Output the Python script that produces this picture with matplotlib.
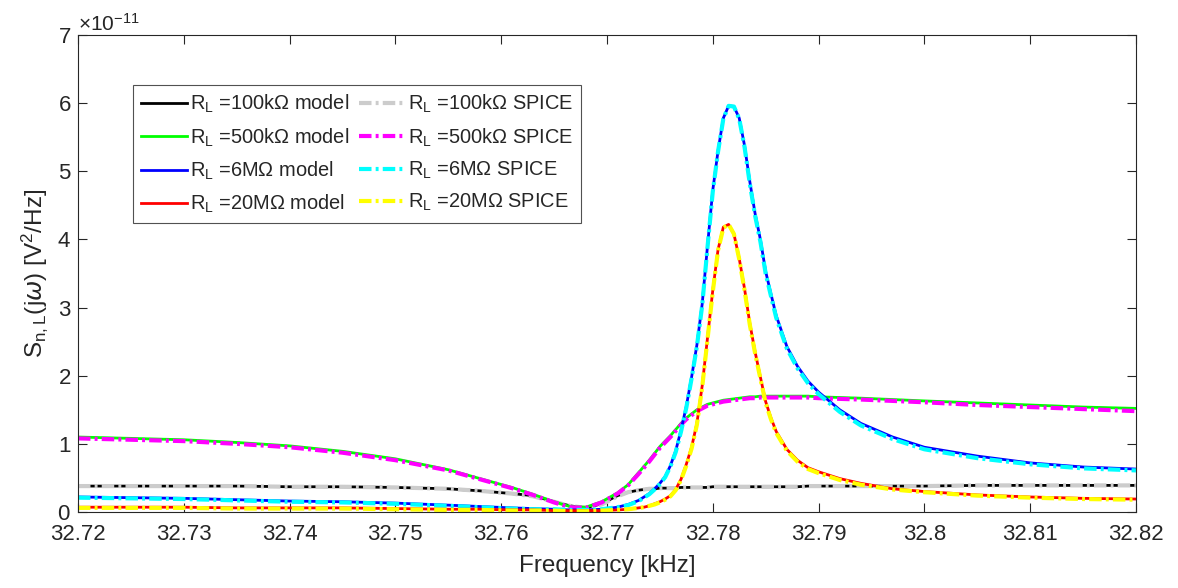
import numpy as np
import matplotlib
matplotlib.use("Agg")
from matplotlib import pyplot as plt

plt.rcParams['font.family'] = ['Liberation Sans', 'DejaVu Sans']
plt.rcParams['mathtext.default'] = 'regular'

# frequency [kHz]
freq = [32.720, 32.725, 32.730, 32.735, 32.740, 32.745, 32.750, 32.755, 32.758, 32.761,
        32.763, 32.765, 32.7665, 32.768, 32.7695, 32.771, 32.772, 32.773, 32.7735, 32.774,
        32.7745, 32.775, 32.7755, 32.776, 32.7765, 32.777, 32.7775, 32.778, 32.7785, 32.779,
        32.7795, 32.780, 32.7805, 32.781, 32.7815, 32.782, 32.7825, 32.783, 32.7835, 32.784,
        32.7845, 32.785, 32.7855, 32.786, 32.787, 32.788, 32.789, 32.790, 32.792, 32.794,
        32.797, 32.800, 32.805, 32.810, 32.815, 32.820]

# noise PSD, units of 1e-11 V^2/Hz
rl100_model = [0.38, 0.38, 0.38, 0.38, 0.37, 0.37, 0.36, 0.34, 0.31, 0.27,
               0.24, 0.15, 0.09, 0.06, 0.12, 0.24, 0.29, 0.32, 0.33, 0.34,
               0.34, 0.35, 0.35, 0.35, 0.35, 0.36, 0.36, 0.36, 0.36, 0.36,
               0.36, 0.37, 0.37, 0.37, 0.37, 0.37, 0.37, 0.37, 0.37, 0.37,
               0.37, 0.37, 0.37, 0.37, 0.37, 0.37, 0.38, 0.38, 0.38, 0.38,
               0.38, 0.38, 0.39, 0.39, 0.39, 0.39]
rl100_spice = [0.38, 0.38, 0.38, 0.38, 0.37, 0.37, 0.36, 0.34, 0.31, 0.27,
               0.23, 0.15, 0.09, 0.06, 0.11, 0.23, 0.29, 0.32, 0.33, 0.34,
               0.34, 0.35, 0.35, 0.35, 0.35, 0.36, 0.36, 0.36, 0.36, 0.36,
               0.36, 0.37, 0.37, 0.37, 0.37, 0.37, 0.37, 0.37, 0.37, 0.37,
               0.37, 0.37, 0.37, 0.37, 0.37, 0.37, 0.38, 0.38, 0.38, 0.38,
               0.38, 0.38, 0.39, 0.39, 0.39, 0.39]
rl500_model = [1.10, 1.08, 1.06, 1.02, 0.97, 0.89, 0.78, 0.62, 0.49, 0.36,
               0.26, 0.15, 0.08, 0.07, 0.15, 0.28, 0.40, 0.58, 0.67, 0.76,
               0.86, 0.96, 1.04, 1.12, 1.21, 1.30, 1.38, 1.44, 1.50, 1.54,
               1.58, 1.60, 1.62, 1.64, 1.65, 1.66, 1.67, 1.68, 1.69, 1.69,
               1.70, 1.70, 1.70, 1.70, 1.70, 1.70, 1.70, 1.69, 1.68, 1.67,
               1.65, 1.63, 1.60, 1.57, 1.54, 1.52]
rl500_spice = [1.08, 1.06, 1.04, 1.00, 0.95, 0.87, 0.76, 0.61, 0.48, 0.35,
               0.25, 0.14, 0.07, 0.06, 0.14, 0.27, 0.39, 0.56, 0.65, 0.74,
               0.84, 0.94, 1.02, 1.10, 1.19, 1.28, 1.36, 1.42, 1.48, 1.52,
               1.56, 1.58, 1.60, 1.62, 1.63, 1.64, 1.65, 1.66, 1.67, 1.67,
               1.68, 1.68, 1.68, 1.68, 1.68, 1.68, 1.68, 1.67, 1.66, 1.65,
               1.63, 1.61, 1.57, 1.54, 1.51, 1.48]
rl6M_model = [0.22, 0.21, 0.20, 0.18, 0.16, 0.15, 0.13, 0.10, 0.08, 0.06,
              0.05, 0.04, 0.03, 0.03, 0.04, 0.07, 0.11, 0.17, 0.22, 0.27,
              0.34, 0.42, 0.52, 0.68, 0.90, 1.20, 1.55, 1.98, 2.45, 3.05,
              3.90, 4.72, 5.30, 5.78, 5.96, 5.95, 5.78, 5.38, 4.85, 4.38,
              4.00, 3.53, 3.20, 2.88, 2.43, 2.14, 1.92, 1.76, 1.50, 1.30,
              1.10, 0.95, 0.82, 0.72, 0.66, 0.63]
rl6M_spice = [0.21, 0.20, 0.19, 0.17, 0.15, 0.14, 0.12, 0.09, 0.07, 0.05,
              0.04, 0.04, 0.03, 0.03, 0.04, 0.07, 0.10, 0.16, 0.21, 0.26,
              0.33, 0.41, 0.51, 0.67, 0.88, 1.18, 1.53, 1.96, 2.43, 3.03,
              3.88, 4.70, 5.29, 5.77, 5.96, 5.95, 5.77, 5.36, 4.82, 4.35,
              3.97, 3.50, 3.17, 2.85, 2.40, 2.11, 1.89, 1.73, 1.47, 1.27,
              1.07, 0.92, 0.79, 0.70, 0.64, 0.61]
rl20M_model = [0.07, 0.07, 0.07, 0.06, 0.06, 0.06, 0.05, 0.04, 0.04, 0.03,
               0.03, 0.02, 0.02, 0.02, 0.02, 0.03, 0.04, 0.06, 0.07, 0.09,
               0.12, 0.15, 0.19, 0.24, 0.33, 0.48, 0.70, 0.95, 1.30, 1.85,
               2.55, 3.25, 3.85, 4.18, 4.22, 4.08, 3.72, 3.28, 2.77, 2.35,
               1.98, 1.62, 1.38, 1.18, 0.92, 0.76, 0.65, 0.59, 0.49, 0.42,
               0.34, 0.30, 0.25, 0.22, 0.20, 0.19]
rl20M_spice = [0.06, 0.06, 0.06, 0.05, 0.05, 0.05, 0.04, 0.03, 0.03, 0.02,
               0.02, 0.02, 0.01, 0.01, 0.02, 0.03, 0.04, 0.06, 0.07, 0.09,
               0.11, 0.14, 0.18, 0.23, 0.32, 0.47, 0.68, 0.93, 1.28, 1.83,
               2.53, 3.23, 3.84, 4.17, 4.22, 4.08, 3.71, 3.26, 2.75, 2.33,
               1.96, 1.60, 1.36, 1.16, 0.90, 0.74, 0.63, 0.57, 0.47, 0.40,
               0.33, 0.29, 0.24, 0.21, 0.19, 0.18]

names = ['100k', '500k', '6M', '20M']
model_sets = [rl100_model, rl500_model, rl6M_model, rl20M_model]
spice_sets = [rl100_spice, rl500_spice, rl6M_spice, rl20M_spice]
model_cols = ['k', (0, 1, 0), (0, 0, 1), (1, 0, 0)]
spice_cols = [(0.8, 0.8, 0.8), (1, 0, 1), (0, 1, 1), (1, 1, 0)]

fig = plt.figure(figsize=(11.78, 5.88), dpi=100)
ax = fig.add_axes([0.0662, 0.1293, 0.8981, 0.8112])

f = np.array(freq)
model_lines = []
spice_lines = []
for name, m, s, mc, sc in zip(names, model_sets, spice_sets, model_cols, spice_cols):
    lm, = ax.plot(f, np.array(m) * 1e-11, color=mc, lw=2.0,
                  label='R$_L$ =%s\u03a9 model' % name)
    ls, = ax.plot(f, np.array(s) * 1e-11, color=sc, lw=3.0,
                  linestyle=(0, (3.0, 1.0, 0.7, 1.0)),
                  label='R$_L$ =%s\u03a9 SPICE' % name)
    model_lines.append(lm)
    spice_lines.append(ls)

ax.set_xlim(32.72, 32.82)
ax.set_ylim(0, 7e-11)
ax.set_xticks(np.arange(32.72, 32.8201, 0.01))
ax.set_xticklabels(['32.72', '32.73', '32.74', '32.75', '32.76', '32.77', '32.78',
                    '32.79', '32.8', '32.81', '32.82'])
ax.set_yticks(np.arange(0, 8) * 1e-11)
ax.ticklabel_format(axis='y', style='sci', scilimits=(0, 0), useMathText=True)
ax.yaxis.get_offset_text().set_fontsize(15)
ax.yaxis.get_offset_text().set_color('#262626')

dark = '#262626'
ax.tick_params(direction='in', length=6.5, width=0.8, top=True, right=True,
               labelsize=16, colors=dark, pad=5)
ax.tick_params(axis='x', pad=9)
for sp in ax.spines.values():
    sp.set_color(dark)
    sp.set_linewidth(0.8)

ax.set_xlabel('Frequency [kHz]', fontsize=17.5, color=dark, labelpad=7)
ax.set_ylabel('S$_{n,L}$(j$\\mathit{\\omega}$) [V$^2$/Hz]', fontsize=17.5, color=dark, labelpad=5)

leg = ax.legend(handles=model_lines + spice_lines, ncol=2, loc='upper left',
                bbox_to_anchor=(0.052, 0.895), fontsize=14.4, frameon=True,
                fancybox=False, edgecolor=dark, handlelength=2.3,
                handletextpad=0.15, columnspacing=0.5, labelspacing=0.55,
                borderpad=0.4, borderaxespad=0)
leg.get_frame().set_linewidth(0.8)
for t in leg.get_texts():
    t.set_color(dark)

fig.savefig('out.png', dpi=100)
